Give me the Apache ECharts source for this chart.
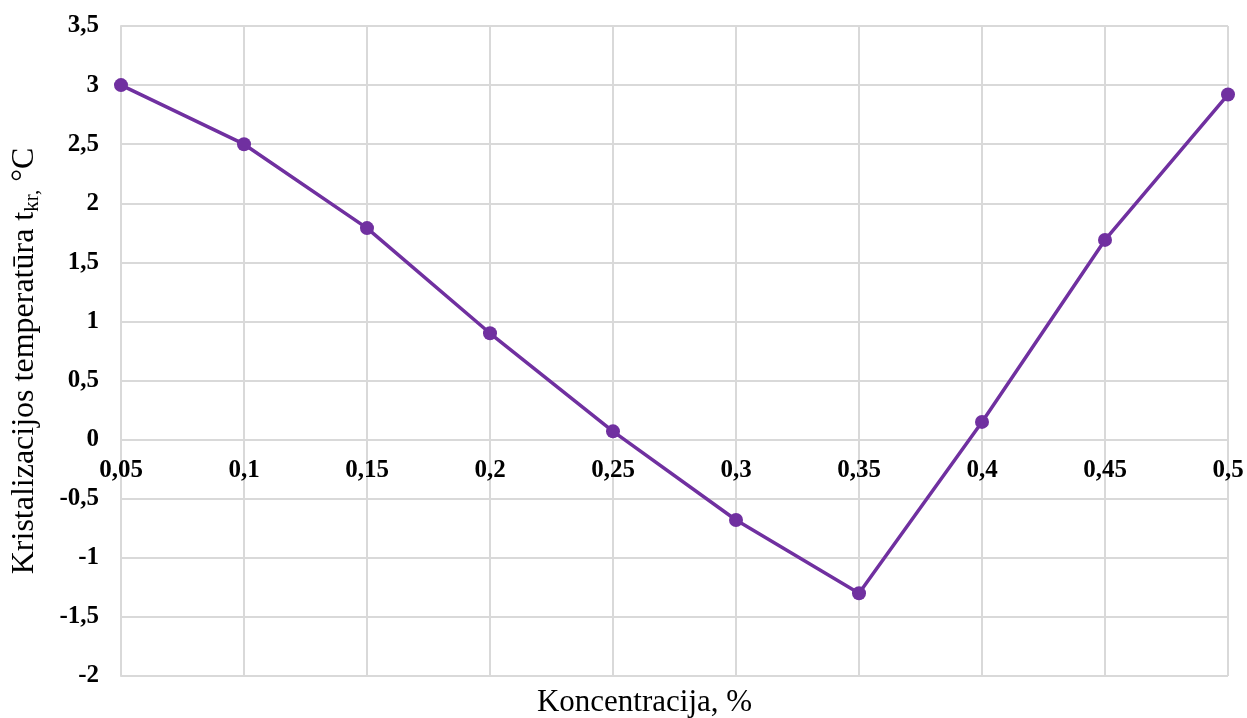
<!DOCTYPE html>
<html><head><meta charset="utf-8">
<script src="https://cdn.jsdelivr.net/npm/echarts@6/dist/echarts.min.js"></script>
<style>html,body{margin:0;padding:0;background:#fff}#c{width:1247px;height:718px}</style>
</head><body><div id="c"></div>
<script>
const categories = ['0,05','0,1','0,15','0,2','0,25','0,3','0,35','0,4','0,45','0,5'];
const values = [3.0, 2.5, 1.79, 0.9, 0.07, -0.68, -1.3, 0.15, 1.69, 2.92];
const yMin = -2, yMax = 3.5, yStep = 0.5;
const xTitle = 'Koncentracija, %';
const serif = '"Liberation Serif","Times New Roman",serif';
const chart = echarts.init(document.getElementById('c'));
chart.setOption({
  animation:false,
  grid:{left:121,right:19,top:26,bottom:42,containLabel:false,outerBoundsMode:'none'},
  xAxis:{type:'category',data:categories,boundaryGap:false,
    axisLine:{show:true,onZero:false,lineStyle:{color:'#D9D9D9',width:2}},
    axisTick:{show:false},
    axisLabel:{color:'#000',fontFamily:serif,fontWeight:'bold',fontSize:25,margin:18,interval:0},
    splitLine:{show:true,lineStyle:{color:'#D9D9D9',width:2}},
    name:xTitle,nameLocation:'middle',nameGap:248,
    nameTextStyle:{color:'#000',fontFamily:serif,fontSize:31,padding:[0,60,0,0]}
  },
  yAxis:{type:'value',min:yMin,max:yMax,interval:yStep,
    axisLine:{show:true,lineStyle:{color:'#D9D9D9',width:2}},axisTick:{show:false},
    axisLabel:{color:'#000',fontFamily:serif,fontWeight:'bold',fontSize:25,margin:22,
      formatter:v=>String(+v.toFixed(2)).replace('.',',')},
    splitLine:{lineStyle:{color:'#D9D9D9',width:2}},
    name:'{a|Kristalizacijos temperatūra t}{s|kr,}{a| °C}',nameLocation:'middle',nameGap:78,nameRotate:90,
    nameTextStyle:{color:'#000',fontFamily:serif,fontSize:32,padding:[0,20,0,0],
      rich:{a:{fontFamily:serif,fontSize:32,color:'#000'},s:{fontFamily:serif,fontSize:21,color:'#000',padding:[16,0,0,0]}}}
  },
  series:[{type:'line',data:values,symbol:'circle',symbolSize:14,
    lineStyle:{color:'#7030A0',width:3.5},itemStyle:{color:'#7030A0'}}]
});
// place the category axis on the y=0 line using the library's own scale
const yZero = chart.convertToPixel({yAxisIndex:0}, 0);
const yBottom = chart.convertToPixel({yAxisIndex:0}, yMin);
chart.setOption({xAxis:{offset:-(yBottom - yZero)}});
</script></body></html>
